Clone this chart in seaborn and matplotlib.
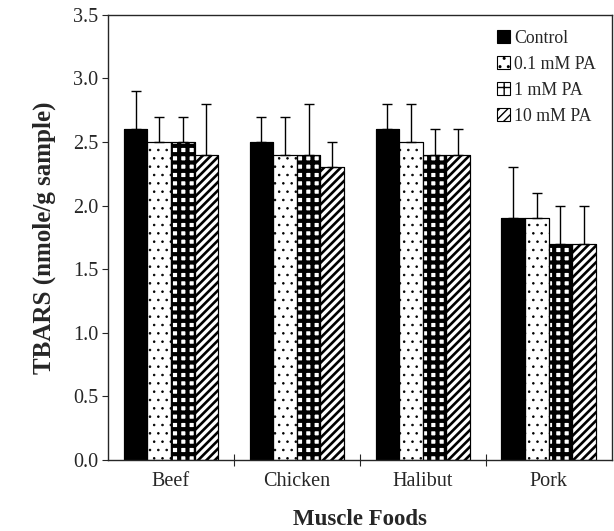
import matplotlib
matplotlib.use("Agg")
import matplotlib.pyplot as plt
import seaborn as sns
import pandas as pd
import numpy as np
from matplotlib.ticker import FixedLocator
from matplotlib.patches import Patch, Rectangle

foods = ["Beef", "Chicken", "Halibut", "Pork"]
treatments = ["Control", "0.1 mM PA", "1 mM PA", "10 mM PA"]
means = {
    "Control":   [2.6, 2.5, 2.6, 1.9],
    "0.1 mM PA": [2.5, 2.4, 2.5, 1.9],
    "1 mM PA":   [2.5, 2.4, 2.4, 1.7],
    "10 mM PA":  [2.4, 2.3, 2.4, 1.7],
}
errors = {
    "Control":   [0.3, 0.2, 0.2, 0.4],
    "0.1 mM PA": [0.2, 0.3, 0.3, 0.2],
    "1 mM PA":   [0.2, 0.4, 0.2, 0.3],
    "10 mM PA":  [0.4, 0.2, 0.2, 0.3],
}

rows = []
for t in treatments:
    for f, m, e in zip(foods, means[t], errors[t]):
        rows.append({"Food": f, "Treatment": t, "TBARS": m, "err": e})
df = pd.DataFrame(rows)

sns.set_style("ticks")
plt.rcParams["font.family"] = ["Liberation Serif", "DejaVu Serif"]

# fc: face colour, hc: hatch colour, hlw: hatch line width
styles = {
    "Control":   dict(fc="black", hatch=None, hc="black", hlw=1.0),
    "0.1 mM PA": dict(fc="white", hatch="..", hc="black", hlw=0.6),
    "1 mM PA":   dict(fc="white", hatch="++", hc="black", hlw=3.0),
    "10 mM PA":  dict(fc="white", hatch="////", hc="black", hlw=1.9),
}


def style_patch(p, st):
    p.set_facecolor(st["fc"])
    p.set_edgecolor("black")
    p.set_linewidth(0.8)
    if st["hatch"]:
        p.set_hatch(st["hatch"])
        if hasattr(p, "set_hatch_linewidth"):
            p.set_hatch_linewidth(st["hlw"])
        else:
            p._hatch_linewidth = st["hlw"]
        rgba = matplotlib.colors.to_rgba(st["hc"])
        if hasattr(p, "set_hatchcolor"):
            p.set_hatchcolor(rgba)
        else:
            p._hatch_color = rgba


fig = plt.figure(figsize=(6.14, 5.31), dpi=100)
ax = fig.add_axes([0.176, 0.134, 0.820, 0.838])

sns.barplot(data=df, x="Food", y="TBARS", hue="Treatment", order=foods,
            hue_order=treatments, width=0.75, errorbar=None,
            palette=["black"] * 4, ax=ax, legend=False)

for cont, t in zip(ax.containers, treatments):
    st = styles[t]
    xs, tops = [], []
    for p in cont.patches:
        style_patch(p, st)
        # crisp black outline on top of the hatch
        ax.add_patch(Rectangle((p.get_x(), p.get_y()), p.get_width(), p.get_height(),
                               fill=False, edgecolor="black", linewidth=0.8, zorder=p.get_zorder() + 0.1))
        xs.append(p.get_x() + p.get_width() / 2)
        tops.append(p.get_height())
    err = df[df.Treatment == t]["err"].values
    ax.errorbar(xs, tops, yerr=[np.zeros_like(err), err], fmt="none",
                ecolor="black", elinewidth=1.0, capsize=3.5, capthick=1.0)

ax.set_ylim(0, 3.5)
ax.set_xlim(-0.5, 3.5)
yt = np.arange(0, 3.51, 0.5)
ax.set_yticks(yt)
ax.set_yticklabels([f"{v:.1f}" for v in yt], fontsize=14.5)
ax.tick_params(axis="y", direction="out", length=4, width=0.8, pad=3)
ax.tick_params(axis="x", which="major", length=0, labelsize=14.5, pad=9)
ax.xaxis.set_minor_locator(FixedLocator([0.5, 1.5, 2.5]))
ax.tick_params(axis="x", which="minor", direction="inout", length=9, width=0.8)

for s in ax.spines.values():
    s.set_visible(True)
    s.set_linewidth(1.0)

ax.set_xlabel("Muscle Foods", fontsize=16.5, fontweight="bold", labelpad=13)
ax.set_ylabel("TBARS (nmole/g sample)", fontsize=18, fontweight="bold", labelpad=12)

handles = []
for t in treatments:
    h = Patch()
    style_patch(h, styles[t])
    handles.append(h)
ax.legend(handles, treatments, loc="upper right", frameon=False, fontsize=12.8,
          handlelength=0.75, handleheight=0.75, handletextpad=0.2,
          labelspacing=0.5, bbox_to_anchor=(0.99, 0.99), borderaxespad=0.2)

fig.savefig("out.png", dpi=100)
